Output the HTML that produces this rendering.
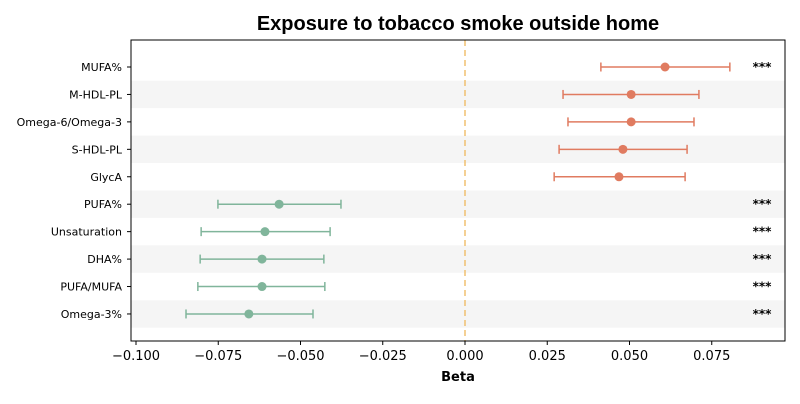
<!DOCTYPE html>
<html><head><meta charset="utf-8"><style>
body{margin:0;background:#fff;font-family:"DejaVu Sans","Liberation Sans",sans-serif}
</style></head><body>
<svg id="chart" width="800" height="400" xmlns="http://www.w3.org/2000/svg">
<text x="458" y="30" text-anchor="middle" font-size="20" font-weight="bold" font-family="Liberation Sans, sans-serif">Exposure to tobacco smoke outside home</text>
<g id="bands"></g>
<line x1="465" y1="40" x2="465" y2="341" stroke="#f0c070" stroke-width="1.5" stroke-dasharray="6,4"/>
<g id="marks"></g>
<rect x="131" y="40" width="654" height="301" fill="none" stroke="#000" stroke-width="1"/>
<g id="axes" font-size="13"></g>
<text x="458" y="381" text-anchor="middle" font-size="13" font-weight="bold">Beta</text>
</svg>
<script>
const labels=["MUFA%","M-HDL-PL","Omega-6/Omega-3","S-HDL-PL","GlycA","PUFA%","Unsaturation","DHA%","PUFA/MUFA","Omega-3%"];
const beta=[0.0608,0.0505,0.0505,0.048,0.0468,-0.0565,-0.0608,-0.0617,-0.0617,-0.0657];
const lower=[0.0413,0.0298,0.0313,0.0286,0.0271,-0.0751,-0.0802,-0.0805,-0.0812,-0.0848];
const upper=[0.0805,0.0711,0.0696,0.0675,0.0669,-0.0377,-0.041,-0.0429,-0.0426,-0.0462];
const sig=["***","","","","","***","***","***","***","***"];
const ticks=[-0.1,-0.075,-0.05,-0.025,0,0.025,0.05,0.075];
const ns="http://www.w3.org/2000/svg";
const xs=v=>465+v*3290;
const ys=i=>67+i*27.44;
function mk(tag,attrs,parent,text){const e=document.createElementNS(ns,tag);for(const k in attrs)e.setAttribute(k,attrs[k]);if(text!==undefined)e.textContent=text;parent.appendChild(e);return e;}
const bands=document.getElementById('bands'),marks=document.getElementById('marks'),axes=document.getElementById('axes');
labels.forEach((l,i)=>{
  if(i%2===1){const b=mk('rect',{x:131,y:ys(i)-13.72,width:654,height:27.44,fill:'#f5f5f5'},bands);
    
    }
  const c=beta[i]>0?'#e07b60':'#80b59b';
  const g=mk('g',{},marks);
  
  
  const y=ys(i);
  mk('line',{x1:xs(lower[i]),x2:xs(upper[i]),y1:y,y2:y,stroke:c,'stroke-width':1.5},g);
  mk('line',{x1:xs(lower[i]),x2:xs(lower[i]),y1:y-4.5,y2:y+4.5,stroke:c,'stroke-width':1.5},g);
  mk('line',{x1:xs(upper[i]),x2:xs(upper[i]),y1:y-4.5,y2:y+4.5,stroke:c,'stroke-width':1.5},g);
  mk('circle',{cx:xs(beta[i]),cy:y,r:4.5,fill:c},g);
  if(sig[i]){const s=mk('text',{x:762,y:y+4,'text-anchor':'middle','font-size':12,'font-weight':'bold'},marks,sig[i]);
    
    }
  mk('line',{x1:127,x2:131,y1:y,y2:y,stroke:'#000'},axes);
  const t=mk('text',{x:122,y:y+4,'text-anchor':'end','font-size':11},axes,l);
  
  
});
ticks.forEach(v=>{
  const x=xs(v);
  mk('line',{x1:x,x2:x,y1:341,y2:345,stroke:'#000'},axes);
  const t=mk('text',{x:x,y:360,'text-anchor':'middle'},axes,(v<0?'\u2212':'')+Math.abs(v).toFixed(3));
  
  
});
</script>
</body></html>
